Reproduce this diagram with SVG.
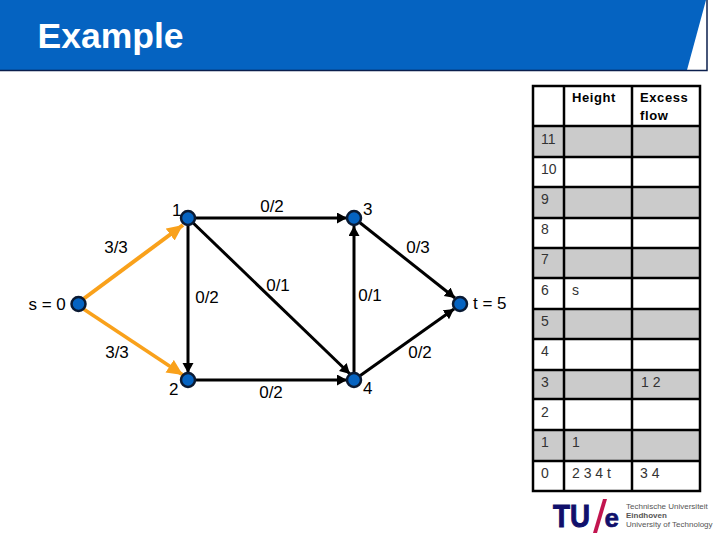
<svg xmlns="http://www.w3.org/2000/svg" width="720" height="540" viewBox="0 0 720 540">
<style>
text{font-family:"Liberation Sans",Arial,sans-serif;fill:#000}
.l{font-size:17px}
.n{font-size:17px;text-anchor:middle}
.t{font-size:14px;fill:#333}
.h{font-size:13px;font-weight:bold;letter-spacing:.6px}
.e{fill:none;stroke:#000;stroke-width:3}
.o{fill:none;stroke:#f9a11b;stroke-width:4}
.v{fill:#0563c1;stroke:#0a1a33;stroke-width:2.5}
.g{fill:#cbcbcb}
.b{fill:none;stroke:#000;stroke-width:2.5}
.s{font-size:8px;fill:#555}
</style>
<defs>
<marker id="ka" markerUnits="userSpaceOnUse" markerWidth="12" markerHeight="12" refX="10" refY="5.500" orient="auto"><path d="M0 0L10 5.500L0 11Z" fill="#000"/></marker>
<marker id="or" markerUnits="userSpaceOnUse" markerWidth="20" markerHeight="20" refX="16" refY="7.500" orient="auto"><path d="M0 0L16 7.500L0 15Z" fill="#f9a11b"/></marker>
</defs>
<g id="header">
<path d="M0 0H706L687 70H0Z" fill="#0563c1"/>
<path d="M707 0V70.500H0" fill="none" stroke="#0b1f4d" stroke-width="1.500"/>
<text x="37.500" y="48" font-size="35.500" font-weight="bold" style="fill:#fff">Example</text>
</g>
<g id="connectors">
<line class="o" x1="82" y1="300" x2="183" y2="225" marker-end="url(#or)"/>
<line class="o" x1="82" y1="308" x2="183" y2="375" marker-end="url(#or)" style="stroke-width:3.500"/>
<line class="e" x1="188" y1="218" x2="347" y2="218" marker-end="url(#ka)"/>
<line class="e" x1="188" y1="218" x2="188" y2="373" marker-end="url(#ka)"/>
<line class="e" x1="188" y1="218" x2="350" y2="374" marker-end="url(#ka)"/>
<line class="e" x1="188" y1="380" x2="347" y2="380" marker-end="url(#ka)"/>
<line class="e" x1="354" y1="380" x2="354" y2="226" marker-end="url(#ka)"/>
<line class="e" x1="354" y1="218" x2="455" y2="298" marker-end="url(#ka)"/>
<line class="e" x1="354" y1="380" x2="454" y2="309" marker-end="url(#ka)"/>
</g>
<g id="node-s"><circle class="v" cx="78.500" cy="304" r="7"/><text class="l" x="28.500" y="310" xml:space="preserve">s = 0</text></g>
<g id="node-1"><circle class="v" cx="188" cy="218" r="7"/><text class="l" x="172" y="216">1</text></g>
<g id="node-2"><circle class="v" cx="188" cy="380" r="7"/><text class="l" x="169" y="395">2</text></g>
<g id="node-3"><circle class="v" cx="354" cy="218" r="7"/><text class="l" x="363" y="215">3</text></g>
<g id="node-4"><circle class="v" cx="354" cy="380" r="7"/><text class="l" x="363" y="394">4</text></g>
<g id="node-t"><circle class="v" cx="460" cy="304" r="7"/><text class="l" x="473" y="309" xml:space="preserve">t = 5</text></g>
<g id="edge-labels">
<text class="n" x="116" y="253">3/3</text>
<text class="n" x="117" y="358">3/3</text>
<text class="n" x="207" y="303">0/2</text>
<text class="n" x="272" y="212">0/2</text>
<text class="n" x="278" y="291">0/1</text>
<text class="n" x="271" y="398">0/2</text>
<text class="n" x="370" y="301">0/1</text>
<text class="n" x="418" y="253">0/3</text>
<text class="n" x="420" y="358">0/2</text>
</g>
<g id="table">
<rect class="g" x="533" y="126" width="167" height="31"/>
<rect class="g" x="533" y="187" width="167" height="31"/>
<rect class="g" x="533" y="248" width="167" height="30"/>
<rect class="g" x="533" y="309" width="167" height="30"/>
<rect class="g" x="533" y="370" width="167" height="29"/>
<rect class="g" x="533" y="430" width="167" height="31"/>
<path class="b" d="M533 86H700V491H533ZM564 86V491M632 86V491M533 126H700M533 157H700M533 187H700M533 218H700M533 248H700M533 278H700M533 309H700M533 339H700M533 370H700M533 399H700M533 430H700M533 461H700"/>
<text class="h" x="572" y="102">Height</text>
<text class="h" x="640" y="102">Excess</text>
<text class="h" x="640" y="120">flow</text>
<text class="t" x="541" y="144">11</text>
<text class="t" x="541" y="174">10</text>
<text class="t" x="541" y="204">9</text>
<text class="t" x="541" y="234">8</text>
<text class="t" x="541" y="264">7</text>
<text class="t" x="541" y="295">6</text>
<text class="t" x="572" y="295">s</text>
<text class="t" x="541" y="326">5</text>
<text class="t" x="541" y="356">4</text>
<text class="t" x="541" y="387">3</text>
<text class="t" x="641" y="387" xml:space="preserve">1 2</text>
<text class="t" x="541" y="417">2</text>
<text class="t" x="541" y="447">1</text>
<text class="t" x="572" y="447">1</text>
<text class="t" x="541" y="478">0</text>
<text class="t" x="572" y="478" xml:space="preserve">2 3 4 t</text>
<text class="t" x="640" y="478" xml:space="preserve">3 4</text>
</g>
<g id="logo">
<text x="553" y="527" font-size="32" font-weight="bold" textLength="37" lengthAdjust="spacingAndGlyphs" style="fill:#10106b;stroke:#10106b;stroke-width:1">TU</text>
<text x="604.500" y="527" font-size="26" font-weight="bold" style="fill:#10106b;stroke:#10106b;stroke-width:.6">e</text>
<path d="M593 533L603 499H607L597 533Z" fill="#c2154f"/>
<text class="s" x="626" y="509">Technische Universiteit</text>
<text class="s" x="626" y="518" font-weight="bold">Eindhoven</text>
<text class="s" x="626" y="527">University of Technology</text>
</g>
</svg>
